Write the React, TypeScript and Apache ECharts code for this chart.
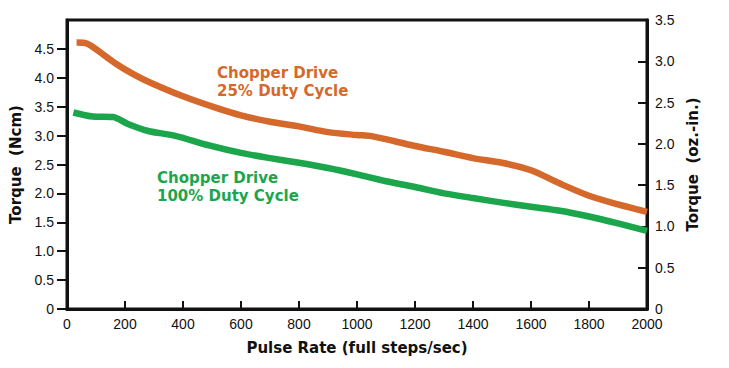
import React, { useEffect, useRef } from "react";
import * as echarts from "echarts";

// Pulse rate (full steps/sec) and torque (Ncm)
const orangeX = [33, 70, 115, 170, 230, 290, 400, 520, 600, 700, 800, 900, 1000, 1050, 1200, 1300, 1400, 1500, 1600, 1700, 1800, 1900, 2000];
const orangeY = [4.61, 4.59, 4.44, 4.24, 4.06, 3.91, 3.68, 3.47, 3.35, 3.24, 3.16, 3.06, 3.01, 2.99, 2.82, 2.72, 2.61, 2.53, 2.40, 2.17, 1.96, 1.81, 1.68];
const greenX = [22, 90, 160, 180, 210, 280, 370, 490, 600, 700, 800, 900, 1000, 1100, 1200, 1300, 1400, 1500, 1600, 1700, 1800, 1900, 2000];
const greenY = [3.40, 3.33, 3.32, 3.28, 3.20, 3.08, 3.00, 2.83, 2.70, 2.61, 2.53, 2.44, 2.33, 2.21, 2.11, 2.00, 1.92, 1.84, 1.77, 1.70, 1.60, 1.48, 1.35];

const orangeLabel = "Chopper Drive\n25% Duty Cycle";
const greenLabel = "Chopper Drive\n100% Duty Cycle";
const xTitle = "Pulse Rate (full steps/sec)";
const yLeftTitle = "Torque  (Ncm)";
const yRightTitle = "Torque  (oz.-in.)";

const ORANGE = "#d5692c";
const GREEN = "#1ca64c";
const TITLE_FONT = "DejaVu Sans";
const TICK_FONT = "Liberation Sans";

const fmt = (v: number) => (v === 0 ? "0" : v.toFixed(1));

export default function App() {
  const ref = useRef<HTMLDivElement>(null);
  useEffect(() => {
    if (!ref.current) return;
    const chart = echarts.init(ref.current, undefined, { renderer: "svg" });
    const axisLine = { show: true, lineStyle: { color: "#111", width: 3 } };
    const tickLabel = { color: "#111", fontFamily: TICK_FONT, fontSize: 14 };
    const nameStyle = { color: "#111", fontFamily: TITLE_FONT, fontWeight: "bold" as const, fontSize: 15 };
    chart.setOption({
      animation: false,
      backgroundColor: "#fff",
      grid: {
        left: 67,
        right: 82,
        top: 20,
        bottom: 59,
        show: true,
        borderColor: "#111",
        borderWidth: 3,
        backgroundColor: "transparent",
        outerBoundsMode: "none",
      },
      xAxis: {
        type: "value",
        min: 0,
        max: 2000,
        interval: 200,
        name: xTitle,
        nameLocation: "middle",
        nameGap: 31,
        nameTextStyle: nameStyle,
        axisLine,
        axisTick: { show: true, inside: true, length: 8, lineStyle: { color: "#111", width: 2 } },
        axisLabel: { ...tickLabel, margin: 8, formatter: (v: number) => String(v) },
        splitLine: { show: false },
      },
      yAxis: [
        {
          type: "value",
          min: 0,
          max: 5,
          interval: 0.5,
          position: "left",
          name: yLeftTitle,
          nameLocation: "middle",
          nameGap: 44,
          nameRotate: 90,
          nameTextStyle: nameStyle,
          axisLine,
          axisTick: { show: true, inside: false, length: 10, lineStyle: { color: "#111", width: 2 } },
          axisLabel: { ...tickLabel, margin: 13, formatter: fmt, showMaxLabel: false },
          splitLine: { show: false },
        },
        {
          type: "value",
          min: 0,
          max: 3.5,
          interval: 0.5,
          position: "right",
          name: yRightTitle,
          nameLocation: "middle",
          nameGap: 38,
          nameRotate: 90,
          nameTextStyle: nameStyle,
          axisLine,
          axisTick: { show: true, inside: true, length: 9, lineStyle: { color: "#111", width: 2 } },
          axisLabel: { ...tickLabel, margin: 8, formatter: fmt },
          splitLine: { show: false },
        },
      ],
      series: [
        {
          type: "line",
          yAxisIndex: 0,
          data: orangeX.map((x, i) => [x, orangeY[i]]),
          showSymbol: false,
          smooth: 0.3,
          lineStyle: { color: ORANGE, width: 6.5, cap: "butt", join: "round" },
          z: 3,
        },
        {
          type: "line",
          yAxisIndex: 0,
          data: greenX.map((x, i) => [x, greenY[i]]),
          showSymbol: false,
          smooth: 0.3,
          lineStyle: { color: GREEN, width: 6.5, cap: "butt", join: "round" },
          z: 3,
        },
      ],
      graphic: [
        {
          type: "text",
          x: 217,
          y: 64,
          style: {
            text: orangeLabel,
            fill: ORANGE,
            font: `bold 15px "${TITLE_FONT}"`,
            lineHeight: 18,
          },
        },
        {
          type: "text",
          x: 157,
          y: 169,
          style: {
            text: greenLabel,
            fill: GREEN,
            font: `bold 15px "${TITLE_FONT}"`,
            lineHeight: 18,
          },
        },
      ],
    });
    return () => chart.dispose();
  }, []);
  return (
    <div
      ref={ref}
      style={{ position: "fixed", left: 0, top: 0, width: 729, height: 368 }}
    />
  );
}
